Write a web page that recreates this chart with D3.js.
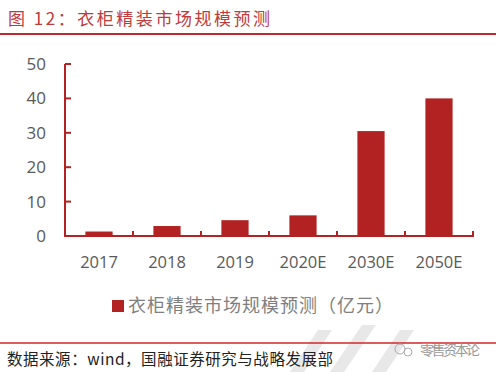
<!DOCTYPE html>
<html lang="zh">
<head>
<meta charset="UTF-8">
<title>衣柜精装市场规模预测</title>
<style>
  body { margin: 0; background: #fff; }
  svg { display: block; font-family: "Noto Sans CJK SC", "Noto Sans", sans-serif; }
  .tick-label { fill: #595959; font-family: "Open Sans", "Liberation Sans", sans-serif; }
</style>
</head>
<body>
<svg width="496" height="372"></svg>
<script src="https://d3js.org/d3.v7.min.js"></script>
<script>
// 数据
const years = ['2017', '2018', '2019', '2020E', '2030E', '2050E'];
const marketSize = [1.3, 2.9, 4.6, 6.0, 30.5, 40.0];
const yTicks = [0, 10, 20, 30, 40, 50];
const seriesName = '衣柜精装市场规模预测（亿元）';

const red = '#B22222';
const svg = d3.select('svg');

// 标题
svg.append('text')
  .attr('x', 8).attr('y', 25)
  .attr('fill', '#C0393B')
  .attr('font-size', 17)
  .attr('textLength', 262).attr('lengthAdjust', 'spacing')
  .text('图 12：衣柜精装市场规模预测');
svg.append('line')
  .attr('x1', 0).attr('x2', 496).attr('y1', 34).attr('y2', 34)
  .attr('stroke', '#C0282D').attr('stroke-width', 2);

// 背景水印
const wm = svg.append('g').attr('fill', '#e8e8e8');
[[290, 372, 318, 330], [330, 372, 362, 325], [372, 372, 400, 330]].forEach(p => {
  wm.append('polygon')
    .attr('points', `${p[0]},${p[1]} ${p[0] + 14},${p[1]} ${p[2] + 14},${p[3]} ${p[2]},${p[3]}`);
});

// 比例尺
const x = d3.scaleBand().domain(years).range([65, 473]).paddingInner(0.6).paddingOuter(0.3);
const y = d3.scaleLinear().domain([0, 50]).range([236, 64]);

// 柱子
svg.selectAll('.bar')
  .data(years)
  .enter().append('rect')
  .attr('class', 'bar')
  .attr('x', d => x(d))
  .attr('width', x.bandwidth())
  .attr('y', (d, i) => y(marketSize[i]))
  .attr('height', (d, i) => y(0) - y(marketSize[i]))
  .attr('fill', red);

// Y 轴
svg.append('line')
  .attr('x1', 65).attr('x2', 65).attr('y1', y(50)).attr('y2', y(0))
  .attr('stroke', red).attr('stroke-width', 2);
svg.selectAll('.ytick')
  .data(yTicks)
  .enter().append('line')
  .attr('x1', 65).attr('x2', 71)
  .attr('y1', d => y(d)).attr('y2', d => y(d))
  .attr('stroke', red).attr('stroke-width', 2);
svg.selectAll('.ylabel')
  .data(yTicks)
  .enter().append('text')
  .attr('class', 'tick-label')
  .attr('x', 46)
  .attr('y', d => y(d))
  .attr('dy', '0.35em')
  .attr('text-anchor', 'end')
  .attr('font-size', 17)
  .text(d => d);

// X 轴
svg.append('line')
  .attr('x1', 64).attr('x2', 474).attr('y1', y(0)).attr('y2', y(0))
  .attr('stroke', red).attr('stroke-width', 2);
const bounds = years.map((d, i) => 65 + (i + 1) * (408 / years.length));
svg.selectAll('.xtick')
  .data(bounds)
  .enter().append('line')
  .attr('x1', d => d).attr('x2', d => d)
  .attr('y1', y(0)).attr('y2', y(0) - 5)
  .attr('stroke', red).attr('stroke-width', 2);
svg.selectAll('.xlabel')
  .data(years)
  .enter().append('text')
  .attr('class', 'tick-label')
  .attr('x', d => x(d) + x.bandwidth() / 2)
  .attr('y', 262)
  .attr('dy', '0.35em')
  .attr('text-anchor', 'middle')
  .attr('font-size', 16.5)
  .text(d => d);

// 图例
svg.append('rect')
  .attr('x', 112).attr('y', 300).attr('width', 12).attr('height', 12)
  .attr('fill', red);
svg.append('text')
  .attr('x', 128).attr('y', 306)
  .attr('dy', '0.35em')
  .attr('fill', '#7f7f7f')
  .attr('font-size', 18)
  .attr('textLength', 265).attr('lengthAdjust', 'spacing')
  .text(seriesName);

// 底部
svg.append('line')
  .attr('x1', 0).attr('x2', 496).attr('y1', 343).attr('y2', 343)
  .attr('stroke', '#D0262B').attr('stroke-width', 1.5);
svg.append('text')
  .attr('x', 7).attr('y', 360)
  .attr('dy', '0.35em')
  .attr('fill', '#222')
  .attr('font-size', 15.5)
  .attr('textLength', 326).attr('lengthAdjust', 'spacing')
  .text('数据来源：wind，国融证券研究与战略发展部');

// 公众号水印
svg.append('circle').attr('cx', 400).attr('cy', 349).attr('r', 5)
  .attr('fill', 'none').attr('stroke', '#aaa').attr('stroke-width', 1);
svg.append('circle').attr('cx', 408).attr('cy', 352).attr('r', 4)
  .attr('fill', 'none').attr('stroke', '#aaa').attr('stroke-width', 1);
svg.append('text')
  .attr('x', 420).attr('y', 350)
  .attr('dy', '0.35em')
  .attr('fill', '#999')
  .attr('font-size', 14)
  .attr('textLength', 60).attr('lengthAdjust', 'spacing')
  .text('零售资本论');
</script>
</body>
</html>
